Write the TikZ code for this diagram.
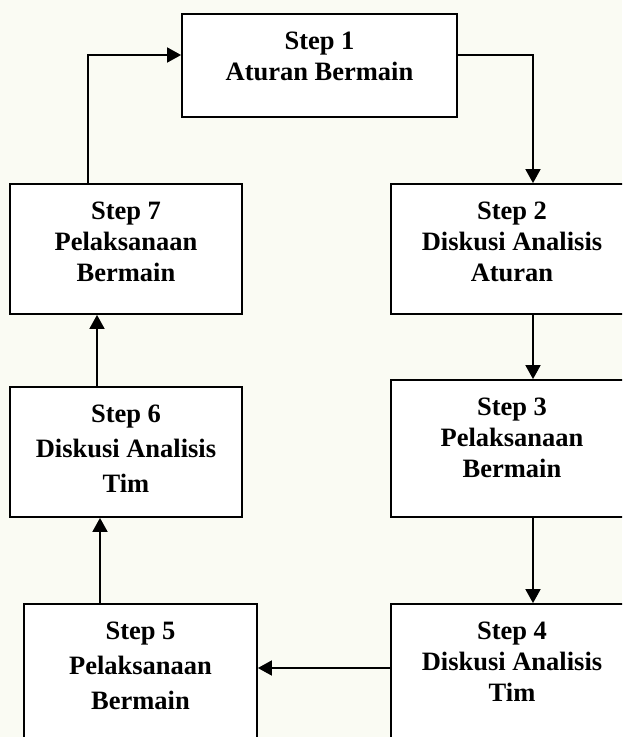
\documentclass[tikz,border=0pt]{standalone}
\usepackage{fontspec}
\setmainfont{Liberation Serif}
\usetikzlibrary{arrows.meta}

\definecolor{bgcream}{RGB}{250,251,243}
% box text: width, height, then the lines (set from the top)
\newcommand{\boxtext}[3]{\parbox[c][#2][t]{#1}{\centering\vspace*{18pt}#3}}

\begin{document}
\begin{tikzpicture}[
    x=1pt, y=-1pt,
    >={Triangle[length=14pt,width=15pt]},
    stepbox/.style={rectangle, draw=black, fill=white, inner sep=0pt, line width=1.8pt, font=\bfseries\fontsize{26.5}{31}\selectfont},
    widelines/.style={font=\bfseries\fontsize{26.5}{35}\selectfont},
    flow/.style={->, line width=1.8pt}
]
\path[use as bounding box, clip] (0,0) rectangle (622,737);
\fill[bgcream] (0,0) rectangle (622,737);

% Steps (right column goes down, left column goes up)
\node[stepbox] (s1) at (319.5, 65.5) {\boxtext{275pt}{103pt}{Step 1\\Aturan Bermain}};
\node[stepbox] (s2) at (512, 249) {\boxtext{242pt}{130pt}{Step 2\\Diskusi Analisis\\Aturan}};
\node[stepbox] (s3) at (512, 448.5) {\boxtext{242pt}{137pt}{Step 3\\Pelaksanaan\\Bermain}};
\node[stepbox] (s4) at (512, 684) {\boxtext{242pt}{160pt}{Step 4\\Diskusi Analisis\\Tim}};
\node[stepbox, widelines] (s5) at (140.5, 684) {\boxtext{233pt}{160pt}{Step 5\\Pelaksanaan\\Bermain}};
\node[stepbox, widelines] (s6) at (126, 452) {\boxtext{232pt}{130pt}{Step 6\\Diskusi Analisis\\Tim}};
\node[stepbox] (s7) at (126, 249) {\boxtext{232pt}{130pt}{Step 7\\Pelaksanaan\\Bermain}};

% Guide coordinates for the connectors
\coordinate (toprow) at (0, 55);
\coordinate (lowrow) at (0, 668);
\coordinate (rcol) at (533, 0);
\coordinate (c56) at (100, 0);
\coordinate (c67) at (97, 0);
\coordinate (c71) at (88, 0);

% Arrows
\draw[flow] (s1.east |- toprow) -| (s2.north -| rcol);
\draw[flow] (s2.south -| rcol) -- (s3.north -| rcol);
\draw[flow] (s3.south -| rcol) -- (s4.north -| rcol);
\draw[flow] (s4.west |- lowrow) -- (s5.east |- lowrow);
\draw[flow] (s5.north -| c56) -- (s6.south -| c56);
\draw[flow] (s6.north -| c67) -- (s7.south -| c67);
\draw[flow] (s7.north -| c71) |- (s1.west |- toprow);

\end{tikzpicture}
\end{document}
